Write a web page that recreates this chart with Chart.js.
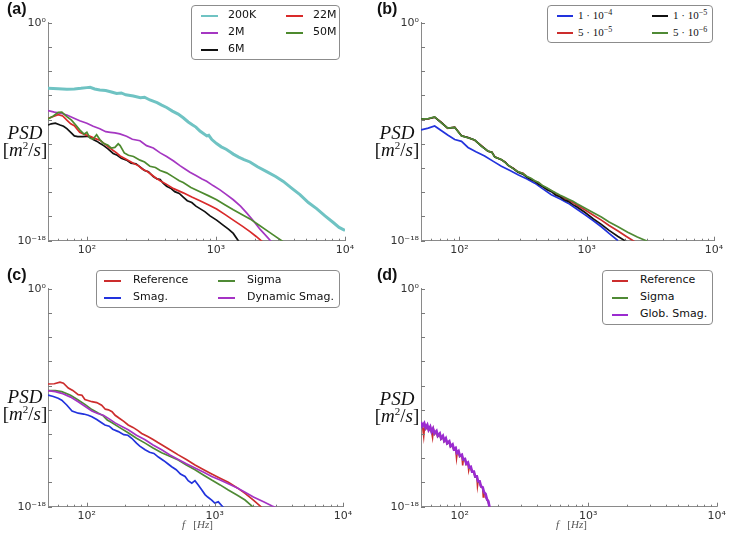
<!DOCTYPE html>
<html>
<head>
<meta charset="utf-8">
<script src="https://cdn.jsdelivr.net/npm/chart.js@4.4.1/dist/chart.umd.min.js"></script>
<style>
  body { margin: 0; background: #fff; }
  #fig { position: relative; width: 729px; height: 533px; overflow: hidden; font-family: "DejaVu Sans", sans-serif; }
  canvas { position: absolute; }
  .tag { position: absolute; font: bold 16px "Liberation Sans", Arial, sans-serif; line-height: 18px; color: #111; }
  .ylab { position: absolute; width: 50px; text-align: center; font: 19px "Liberation Serif", serif; line-height: 17px; color: #111; }
  .ylab sup { font-size: 11px; line-height: 0; vertical-align: 7px; }
  .xlab { position: absolute; font: 11px "Liberation Serif", serif; line-height: 12px; color: #555; white-space: pre; }
  .legend { position: absolute; box-sizing: border-box; border: 1px solid #8c8c8c; border-radius: 4px; background: #fff; }
  .item { position: absolute; font-size: 11px; line-height: 14px; color: #111; white-space: nowrap; }
  .item.math { font-family: "Liberation Serif", serif; font-size: 11px; }
  .item sup { font-size: 8px; line-height: 0; vertical-align: 4px; }
  .swatch { position: absolute; height: 2px; }
</style>
</head>
<body>
<div id="fig">
  <canvas id="cA"></canvas>
  <canvas id="cB"></canvas>
  <canvas id="cC"></canvas>
  <canvas id="cD"></canvas>

  <div class="tag" style="left:7px;top:0px">(a)</div>
  <div class="tag" style="left:377px;top:0px">(b)</div>
  <div class="tag" style="left:7px;top:266px">(c)</div>
  <div class="tag" style="left:377px;top:266px">(d)</div>

  <div class="ylab" style="left:0px;top:124px"><i>PSD</i><br>[<i>m</i><sup>2</sup>/<i>s</i>]</div>
  <div class="ylab" style="left:372px;top:124px"><i>PSD</i><br>[<i>m</i><sup>2</sup>/<i>s</i>]</div>
  <div class="ylab" style="left:0px;top:388px"><i>PSD</i><br>[<i>m</i><sup>2</sup>/<i>s</i>]</div>
  <div class="ylab" style="left:372px;top:390px"><i>PSD</i><br>[<i>m</i><sup>2</sup>/<i>s</i>]</div>

  <div class="xlab" style="left:182px;top:518px"><i>f</i>   [<i>Hz</i>]</div>
  <div class="xlab" style="left:556px;top:518px"><i>f</i>   [<i>Hz</i>]</div>
</div>

<script>
// every series: [frequency in Hz, log10 of PSD]

// (a) mesh resolution
const a200K = [[50,-5.42],[60,-5.45],[70,-5.50],[80,-5.47],[90,-5.42],[100,-5.36],[106,-5.33],[115,-5.47],[126,-5.55],[140,-5.60],[155,-5.72],[170,-5.85],[185,-5.80],[200,-5.95],[229,-6.05],[260,-6.20],[280,-6.15],[308,-6.38],[350,-6.60],[380,-6.80],[415,-7.00],[460,-7.30],[510,-7.55],[558,-7.85],[610,-8.20],[660,-8.45],[700,-8.62],[752,-8.95],[800,-9.15],[850,-9.35],[880,-9.30],[930,-9.65],[1012,-9.98],[1100,-10.25],[1200,-10.45],[1300,-10.70],[1363,-10.85],[1500,-11.10],[1650,-11.30],[1836,-11.50],[2100,-11.90],[2472,-12.30],[2900,-12.70],[3327,-13.10],[3900,-13.70],[4477,-14.20],[5200,-14.85],[6026,-15.35],[7000,-15.95],[8110,-16.50],[9000,-16.90],[10000,-17.15]];
const a2M = [[50,-7.25],[56,-7.38],[63,-7.48],[70,-7.62],[78,-7.85],[88,-8.10],[100,-8.30],[112,-8.55],[126,-8.75],[140,-9.00],[152,-9.05],[165,-9.10],[180,-9.18],[203,-9.38],[225,-9.62],[258,-9.75],[290,-10.15],[327,-10.35],[370,-10.75],[415,-11.05],[470,-11.42],[526,-11.80],[580,-12.10],[629,-12.35],[700,-12.62],[780,-12.90],[847,-13.10],[950,-13.45],[1075,-13.80],[1200,-14.18],[1363,-14.62],[1550,-15.15],[1729,-15.70],[1950,-16.35],[2194,-17.05],[2450,-17.60],[2750,-18.20]];
const a6M = [[50,-8.45],[53,-8.35],[57,-8.30],[62,-8.45],[66,-8.55],[70,-8.75],[75,-9.05],[80,-9.35],[85,-9.40],[92,-9.40],[100,-9.38],[106,-9.45],[112,-9.65],[120,-9.80],[126,-9.95],[135,-10.15],[145,-10.40],[160,-10.80],[172,-10.95],[185,-11.20],[203,-11.35],[220,-11.60],[240,-11.65],[258,-11.90],[280,-12.20],[300,-12.30],[327,-12.70],[350,-12.90],[370,-12.95],[390,-13.25],[415,-13.50],[450,-13.70],[480,-13.95],[520,-14.10],[558,-14.40],[600,-14.70],[650,-14.85],[700,-15.15],[752,-15.35],[820,-15.60],[900,-15.95],[1012,-16.30],[1150,-16.75],[1250,-17.05],[1363,-17.40],[1500,-18.05]];
const a22M = [[50,-7.90],[55,-7.75],[60,-7.60],[65,-7.70],[70,-8.05],[75,-8.35],[80,-8.50],[88,-9.05],[95,-9.20],[100,-9.30],[106,-9.38],[115,-9.55],[126,-9.70],[135,-9.95],[151,-10.35],[160,-10.55],[170,-10.75],[181,-11.00],[200,-11.25],[229,-11.60],[250,-11.80],[270,-12.10],[290,-12.25],[308,-12.45],[340,-12.80],[370,-13.05],[415,-13.35],[470,-13.70],[558,-14.05],[650,-14.40],[752,-14.70],[880,-15.05],[1012,-15.38],[1180,-15.85],[1363,-16.30],[1600,-16.80],[1836,-17.25],[2050,-17.65],[2300,-18.10]];
const a50M = [[50,-7.95],[55,-7.70],[60,-7.40],[64,-7.38],[70,-7.75],[76,-8.05],[82,-8.45],[88,-8.85],[95,-9.20],[100,-9.05],[106,-9.55],[112,-9.60],[119,-9.25],[126,-9.65],[134,-9.95],[145,-10.10],[155,-10.35],[165,-10.30],[175,-10.00],[181,-10.15],[195,-10.75],[210,-10.95],[230,-11.05],[258,-11.35],[280,-11.50],[308,-11.85],[340,-11.95],[370,-12.20],[415,-12.40],[470,-12.75],[520,-13.05],[558,-13.20],[640,-13.60],[752,-13.95],[880,-14.30],[1012,-14.62],[1180,-15.05],[1363,-15.45],[1600,-15.85],[1836,-16.20],[2150,-16.70],[2472,-17.15],[2850,-17.60],[3230,-18.00],[3500,-18.30]];

// (b) model constant
const b1e4 = [[50,-8.86],[57,-8.70],[64,-8.53],[72,-8.90],[81,-9.27],[92,-9.65],[104,-9.80],[117,-10.30],[135,-10.65],[158,-11.00],[185,-11.45],[214,-11.85],[250,-12.20],[289,-12.55],[340,-12.90],[391,-13.25],[450,-13.70],[528,-14.20],[620,-14.55],[714,-14.90],[840,-15.40],[966,-15.85],[1130,-16.35],[1304,-16.85],[1500,-17.40],[1763,-18.00]];
const b5e5 = [[50,-7.93],[57,-7.95],[64,-7.80],[72,-8.22],[81,-8.72],[92,-8.62],[104,-9.33],[117,-9.48],[132,-9.70],[149,-10.15],[168,-10.62],[180,-10.68],[190,-11.08],[214,-11.32],[230,-11.52],[241,-11.78],[265,-12.02],[289,-12.33],[315,-12.42],[340,-12.72],[365,-12.88],[391,-13.07],[420,-13.22],[450,-13.48],[490,-13.68],[528,-13.88],[570,-14.10],[620,-14.30],[665,-14.48],[714,-14.62],[780,-14.85],[840,-15.05],[966,-15.45],[1130,-15.90],[1304,-16.30],[1500,-16.75],[1763,-17.20],[2050,-17.65],[2400,-18.10]];
const b1e5 = [[50,-7.93],[57,-7.93],[64,-7.80],[72,-8.24],[81,-8.70],[92,-8.64],[104,-9.34],[117,-9.49],[132,-9.69],[149,-10.18],[168,-10.61],[180,-10.69],[190,-11.09],[214,-11.31],[230,-11.54],[241,-11.76],[265,-12.04],[289,-12.34],[315,-12.50],[340,-12.76],[365,-12.95],[391,-13.10],[420,-13.35],[450,-13.52],[490,-13.80],[528,-13.95],[570,-14.22],[620,-14.40],[665,-14.62],[714,-14.75],[780,-15.02],[840,-15.22],[966,-15.65],[1130,-16.20],[1304,-16.65],[1500,-17.15],[1763,-17.65],[2100,-18.15]];
const b5e6 = [[50,-7.95],[57,-7.92],[64,-7.78],[72,-8.25],[81,-8.70],[92,-8.65],[104,-9.35],[117,-9.50],[132,-9.68],[149,-10.20],[168,-10.60],[180,-10.70],[190,-11.10],[214,-11.30],[230,-11.55],[241,-11.75],[265,-12.05],[289,-12.30],[315,-12.45],[340,-12.70],[365,-12.85],[391,-13.05],[420,-13.20],[450,-13.45],[490,-13.65],[528,-13.85],[570,-14.05],[620,-14.25],[665,-14.40],[714,-14.55],[780,-14.75],[840,-14.95],[966,-15.30],[1130,-15.70],[1304,-16.05],[1500,-16.45],[1763,-16.85],[2100,-17.30],[2500,-17.70],[3000,-18.05],[3300,-18.25]];

// (c) subgrid models
const cReference = [[50,-7.87],[56,-7.85],[62,-7.72],[66,-7.80],[72,-8.20],[78,-8.40],[86,-8.75],[92,-8.80],[97,-9.15],[104,-9.25],[110,-9.33],[120,-9.40],[131,-9.62],[140,-9.95],[148,-10.00],[158,-10.15],[167,-10.45],[180,-10.70],[195,-10.95],[211,-11.25],[230,-11.45],[250,-11.70],[269,-11.95],[300,-12.20],[330,-12.45],[360,-12.70],[385,-12.88],[440,-13.25],[519,-13.72],[600,-14.10],[701,-14.55],[820,-14.95],[946,-15.30],[1100,-15.65],[1274,-15.98],[1500,-16.45],[1722,-16.90],[2000,-17.45],[2320,-18.05]];
const cSmag = [[50,-8.78],[55,-8.90],[60,-9.05],[64,-9.20],[70,-9.60],[77,-10.10],[86,-10.28],[95,-10.35],[103,-10.45],[110,-10.57],[120,-10.80],[130,-11.05],[139,-11.25],[150,-11.35],[160,-11.60],[177,-11.80],[195,-12.05],[210,-12.10],[225,-12.35],[245,-12.75],[260,-13.00],[286,-13.30],[310,-13.50],[335,-13.60],[363,-13.90],[400,-14.20],[430,-14.45],[461,-14.70],[500,-14.95],[540,-15.30],[586,-15.50],[620,-15.85],[661,-16.05],[700,-15.85],[743,-16.20],[790,-16.60],[839,-17.00],[880,-17.20],[946,-17.45],[1000,-17.70],[1065,-17.60],[1130,-17.90],[1201,-18.20]];
const cSigma = [[50,-8.42],[57,-8.42],[64,-8.50],[75,-8.80],[86,-9.19],[97,-9.55],[110,-9.98],[122,-10.25],[135,-10.50],[145,-10.85],[157,-11.05],[180,-11.45],[211,-11.90],[245,-12.35],[286,-12.75],[330,-13.15],[385,-13.55],[450,-13.85],[519,-14.15],[600,-14.55],[701,-14.95],[820,-15.40],[946,-15.80],[1100,-16.20],[1274,-16.62],[1500,-17.05],[1722,-17.45],[1950,-17.95],[2100,-18.20]];
const cDynSmag = [[50,-8.42],[57,-8.50],[64,-8.64],[75,-8.95],[86,-9.33],[97,-9.70],[110,-10.10],[122,-10.30],[135,-10.45],[150,-10.75],[167,-11.08],[190,-11.40],[211,-11.65],[245,-12.10],[286,-12.48],[330,-12.90],[385,-13.30],[450,-13.75],[519,-14.10],[600,-14.45],[701,-14.80],[820,-15.15],[946,-15.50],[1100,-15.80],[1274,-16.10],[1500,-16.45],[1722,-16.80],[2000,-17.20],[2400,-17.60],[2800,-17.95],[3100,-18.15]];

// (d) laminar case
const dReference = [[50,-11.05],[51.5,-11.45],[52.5,-12.20],[53.5,-11.20],[55,-11.50],[56,-11.30],[57.5,-11.70],[59,-11.45],[60.5,-11.85],[61.5,-12.30],[62.5,-11.60],[64,-12.00],[66,-11.80],[67.5,-12.20],[70,-12.00],[71.6,-12.40],[74,-12.20],[75.7,-12.60],[78,-12.40],[79.8,-12.80],[83,-12.65],[85,-13.05],[88,-12.90],[90,-13.30],[93,-13.20],[94.5,-14.00],[95.5,-13.60],[98,-13.45],[100.2,-13.85],[104,-13.75],[105.5,-14.60],[106.5,-14.15],[110,-14.10],[112.5,-14.50],[116,-14.40],[117.5,-15.00],[118.6,-14.80],[122,-14.75],[124.8,-15.15],[129,-15.15],[131.9,-15.55],[136,-15.55],[137.5,-16.30],[139,-15.95],[143,-15.95],[146.2,-16.35],[151,-16.45],[152.5,-17.20],[154.4,-16.85],[159,-17.00],[162.5,-17.40],[167,-17.60],[172,-18.25]];
const dSigma = [[50,-11.05],[51.2,-11.40],[53,-11.15],[54.3,-11.55],[56,-11.30],[57.3,-11.70],[59,-11.45],[60.4,-11.85],[62,-11.60],[63.5,-12.00],[66,-11.80],[67.5,-12.20],[70,-12.00],[71.6,-12.40],[74,-12.20],[75.7,-12.60],[78,-12.40],[79.8,-12.80],[83,-12.65],[84.9,-13.05],[88,-12.90],[90,-13.30],[93,-13.20],[95,-13.60],[98,-13.45],[100.2,-13.85],[104,-13.75],[106.3,-14.15],[110,-14.10],[112.5,-14.50],[116,-14.40],[118.6,-14.80],[122,-14.75],[124.8,-15.15],[129,-15.15],[131.9,-15.55],[136,-15.55],[139,-15.95],[143,-15.95],[146.2,-16.35],[151,-16.45],[154.4,-16.85],[159,-17.00],[162.5,-17.40],[167,-17.60],[172,-18.25]];
const dGlobSmag = [[50,-11.00],[51.2,-11.35],[53,-11.10],[54.3,-11.50],[56,-11.25],[57.3,-11.65],[59,-11.40],[60.4,-11.80],[62,-11.55],[63.5,-11.95],[66,-11.75],[67.5,-12.15],[70,-11.95],[71.6,-12.35],[74,-12.15],[75.7,-12.55],[78,-12.35],[79.8,-12.75],[83,-12.60],[84.9,-13.00],[88,-12.85],[90,-13.25],[93,-13.15],[95,-13.55],[98,-13.40],[100.2,-13.80],[104,-13.70],[106.3,-14.10],[110,-14.05],[112.5,-14.45],[116,-14.35],[118.6,-14.75],[122,-14.70],[124.8,-15.10],[129,-15.10],[131.9,-15.50],[136,-15.50],[139,-15.90],[143,-15.90],[146.2,-16.30],[151,-16.40],[154.4,-16.80],[159,-16.95],[162.5,-17.35],[167,-17.55],[172,-18.20]];

// axes
const xTickValues = [60, 70, 80, 90, 100, 200, 300, 400, 500, 600, 700, 800, 900, 1000, 2000, 3000, 4000, 5000, 6000, 7000, 8000, 9000, 10000];
const xTickLabels = { 100: '10²', 1000: '10³', 10000: '10⁴' };
const yTickValues = [1e-18, 1e-16, 1e-14, 1e-12, 1e-10, 1e-8, 1e-6, 1e-4, 1e-2, 1];
const yTickLabels = { 1: '10⁰', 1e-18: '10⁻¹⁸' };

const panels = [
  { canvas: 'cA', left: 0, top: 0, w: 364, h: 266, area: { l: 48, t: 22.7, r: 345, b: 240.7 },
    series: [
      { name: '200K', data: a200K, color: '#6fc3c3', width: 3 },
      { name: '2M', data: a2M, color: '#a537c2', width: 1.7 },
      { name: '6M', data: a6M, color: '#111111', width: 1.7 },
      { name: '22M', data: a22M, color: '#d92a2a', width: 1.7 },
      { name: '50M', data: a50M, color: '#4d8a2e', width: 1.7 }
    ],
    legend: { left: 191, top: 5, w: 149, h: 55, perCol: 3, rows: [10, 27, 44], handle: [9, 94], text: [36, 121], hw: 17 } },
  { canvas: 'cB', left: 364, top: 0, w: 365, h: 266, area: { l: 57, t: 22.7, r: 350, b: 240.7 },
    series: [
      { name: '1 · 10<sup>−4</sup>', data: b1e4, color: '#2233dd', width: 1.7 },
      { name: '5 · 10<sup>−5</sup>', data: b5e5, color: '#cc2d2d', width: 1.7 },
      { name: '1 · 10<sup>−5</sup>', data: b1e5, color: '#111111', width: 1.7 },
      { name: '5 · 10<sup>−6</sup>', data: b5e6, color: '#4f8a35', width: 1.7 }
    ],
    legend: { left: 547, top: 5, w: 166, h: 38, perCol: 2, rows: [10, 27], handle: [9, 104], text: [30, 125], hw: 16, math: true } },
  { canvas: 'cC', left: 0, top: 266, w: 364, h: 267, area: { l: 48, t: 22.7, r: 343, b: 240.7 },
    series: [
      { name: 'Reference', data: cReference, color: '#cc2d2d', width: 1.7 },
      { name: 'Smag.', data: cSmag, color: '#2233dd', width: 1.7 },
      { name: 'Sigma', data: cSigma, color: '#4f8a35', width: 1.7 },
      { name: 'Dynamic Smag.', data: cDynSmag, color: '#a533c4', width: 1.7 }
    ],
    legend: { left: 96, top: 270, w: 244, h: 38, perCol: 2, rows: [10, 27], handle: [7, 121], text: [36, 150], hw: 17 } },
  { canvas: 'cD', left: 364, top: 266, w: 365, h: 267, area: { l: 57, t: 22.7, r: 353, b: 240.7 },
    series: [
      { name: 'Reference', data: dReference, color: '#cc2d2d', width: 1.6 },
      { name: 'Sigma', data: dSigma, color: '#4f8a35', width: 1.6 },
      { name: 'Glob. Smag.', data: dGlobSmag, color: '#9b2bd0', width: 2.6 }
    ],
    legend: { left: 602, top: 270, w: 111, h: 55, perCol: 3, rows: [10, 27, 44], handle: [9], text: [37], hw: 16 } }
];

// small inward tick marks, like the original axes
const inTicks = {
  id: 'inTicks',
  afterDraw(chart) {
    const { ctx, chartArea: a, scales: { x, y } } = chart;
    ctx.save();
    ctx.strokeStyle = '#7a7a7a';
    ctx.lineWidth = 1;
    ctx.beginPath();
    x.ticks.forEach(t => {
      const px = Math.round(x.getPixelForValue(t.value)) + 0.5;
      const len = xTickLabels[t.value] ? 4 : 2;
      ctx.moveTo(px, a.bottom);
      ctx.lineTo(px, a.bottom - len);
    });
    y.ticks.forEach(t => {
      const py = Math.round(y.getPixelForValue(t.value)) + 0.5;
      ctx.moveTo(a.left, py);
      ctx.lineTo(a.left + 4, py);
    });
    ctx.stroke();
    ctx.restore();
  }
};

const tickFont = { family: 'DejaVu Sans', size: 11 };
const fig = document.getElementById('fig');

panels.forEach(p => {
  const cv = document.getElementById(p.canvas);
  cv.width = p.w; cv.height = p.h;
  cv.style.left = p.left + 'px'; cv.style.top = p.top + 'px';
  cv.style.width = p.w + 'px'; cv.style.height = p.h + 'px';

  const n = p.series.length;
  new Chart(cv, {
    type: 'line',
    data: {
      datasets: p.series.map((s, i) => ({
        label: s.name,
        data: s.data.map(([f, e]) => ({ x: f, y: Math.pow(10, e) })),
        borderColor: s.color,
        borderWidth: s.width,
        pointRadius: 0,
        tension: 0,
        fill: false,
        order: n - i
      }))
    },
    options: {
      responsive: false,
      animation: false,
      devicePixelRatio: 1,
      layout: { padding: { left: 0, top: p.area.t, right: p.w - p.area.r, bottom: 0 } },
      plugins: { legend: { display: false }, tooltip: { enabled: false } },
      scales: {
        x: {
          type: 'logarithmic', min: 50, max: 10000,
          afterBuildTicks: sc => { sc.ticks = xTickValues.map(v => ({ value: v })); },
          afterFit: sc => { sc.height = p.h - p.area.b; },
          grid: { display: false, drawTicks: false },
          border: { color: '#8a8a8a', width: 1 },
          ticks: { autoSkip: false, maxRotation: 0, padding: 3, color: '#333', font: tickFont,
                   callback: v => xTickLabels[v] || '' }
        },
        y: {
          type: 'logarithmic', min: 1e-18, max: 1,
          afterBuildTicks: sc => { sc.ticks = yTickValues.map(v => ({ value: v })); },
          afterFit: sc => { sc.width = p.area.l; },
          grid: { display: false, drawTicks: false },
          border: { color: '#8a8a8a', width: 1 },
          ticks: { autoSkip: false, padding: 2, color: '#333', font: tickFont,
                   callback: v => yTickLabels[v] || '' }
        }
      }
    },
    plugins: [inTicks]
  });

  // legend box, filled column by column like the original
  const L = p.legend;
  const box = document.createElement('div');
  box.className = 'legend';
  Object.assign(box.style, { left: L.left + 'px', top: L.top + 'px', width: L.w + 'px', height: L.h + 'px' });
  p.series.forEach((s, i) => {
    const col = Math.floor(i / L.perCol), row = i % L.perCol;
    const sw = document.createElement('div');
    sw.className = 'swatch';
    Object.assign(sw.style, { left: L.handle[col] + 'px', top: (L.rows[row] - 1) + 'px', width: L.hw + 'px', background: s.color });
    const tx = document.createElement('div');
    tx.className = 'item' + (L.math ? ' math' : '');
    tx.innerHTML = s.name;
    Object.assign(tx.style, { left: L.text[col] + 'px', top: (L.rows[row] - 8) + 'px' });
    box.appendChild(sw);
    box.appendChild(tx);
  });
  fig.appendChild(box);
});
</script>
</body>
</html>
